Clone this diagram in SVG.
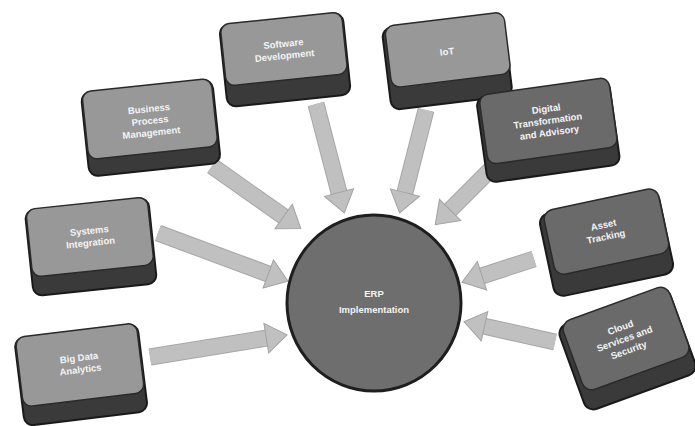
<svg xmlns="http://www.w3.org/2000/svg" width="695" height="426" viewBox="0 0 695 426">
<style>
.side{fill:#3a3a3a;stroke:#1a1a1a;stroke-width:2}
.top{fill:#989898;stroke:#2a2a2a;stroke-width:1.5}
.topd{fill:#6a6a6a;stroke:#2a2a2a;stroke-width:1.5}
.lbl{font-family:"Liberation Sans",Arial,sans-serif;font-size:9.5px;font-weight:bold;fill:#f4f4f4;text-anchor:middle}
.conn{stroke:#c0c0c0;stroke-width:15;fill:none;marker-end:url(#ah)}
.edge{stroke:#a6a6a6;stroke-width:17;fill:none}
</style>
<defs>
<marker id="ah" markerUnits="userSpaceOnUse" markerWidth="24" markerHeight="34" refX="0" refY="16" orient="auto" overflow="visible">
<path d="M0,1 L21,16 L0,31 z" fill="#c0c0c0" stroke="#a2a2a2" stroke-width="1"/>
</marker>
</defs>
<rect width="695" height="426" fill="#ffffff"/>
<g id="connectors">
<line class="edge" x1="212" y1="166" x2="283.6" y2="216.5"/>
<line class="edge" x1="316" y1="104" x2="339" y2="192.6"/>
<line class="edge" x1="426" y1="110" x2="404.9" y2="192.6"/>
<line class="edge" x1="492" y1="168" x2="450.1" y2="209.9"/>
<line class="edge" x1="158" y1="233" x2="268.3" y2="274"/>
<line class="edge" x1="150" y1="357" x2="266.3" y2="338.2"/>
<line class="edge" x1="534" y1="259" x2="482" y2="275.8"/>
<line class="edge" x1="555" y1="342" x2="484.5" y2="326.3"/>
<line class="conn" x1="212" y1="166" x2="283.6" y2="216.5"/>
<line class="conn" x1="316" y1="104" x2="339" y2="192.6"/>
<line class="conn" x1="426" y1="110" x2="404.9" y2="192.6"/>
<line class="conn" x1="492" y1="168" x2="450.1" y2="209.9"/>
<line class="conn" x1="158" y1="233" x2="268.3" y2="274"/>
<line class="conn" x1="150" y1="357" x2="266.3" y2="338.2"/>
<line class="conn" x1="534" y1="259" x2="482" y2="275.8"/>
<line class="conn" x1="555" y1="342" x2="484.5" y2="326.3"/>
</g>
<g id="bpm" transform="translate(150,120) rotate(-6)">
<rect class="side" x="-66" y="-34" width="132" height="84" rx="9"/>
<rect class="top" x="-65" y="-35" width="130" height="68" rx="9"/>
<text class="lbl" y="-8">Business</text>
<text class="lbl" y="4">Process</text>
<text class="lbl" y="16">Management</text>
</g>
<g id="softdev" transform="translate(284,50) rotate(-6)">
<rect class="side" x="-62" y="-31" width="124" height="82" rx="9"/>
<rect class="top" x="-61" y="-32" width="122" height="62" rx="9"/>
<text class="lbl" y="-3">Software</text>
<text class="lbl" y="9">Development</text>
</g>
<g id="iot" transform="translate(447,52) rotate(-7)">
<rect class="side" x="-62" y="-31" width="122" height="82" rx="9"/>
<rect class="top" x="-59" y="-33" width="120" height="62" rx="9"/>
<text class="lbl" y="3">IoT</text>
</g>
<g id="digital" transform="translate(548,122) rotate(-8)">
<rect class="side" x="-68" y="-34" width="134" height="86" rx="9"/>
<rect class="topd" x="-65" y="-36" width="131" height="70" rx="9"/>
<text class="lbl" y="-10">Digital</text>
<text class="lbl" y="2">Transformation</text>
<text class="lbl" y="14">and Advisory</text>
</g>
<g id="systems" transform="translate(90,238) rotate(-6)">
<rect class="side" x="-62" y="-34" width="124" height="86" rx="9"/>
<rect class="top" x="-61" y="-35" width="122" height="68" rx="9"/>
<text class="lbl" y="-4">Systems</text>
<text class="lbl" y="8">Integration</text>
</g>
<g id="asset" transform="translate(605,232) rotate(-12)">
<rect class="side" x="-62" y="-30" width="122" height="84" rx="10"/>
<rect class="topd" x="-57" y="-33" width="117" height="66" rx="10"/>
<text class="lbl" y="-4">Asset</text>
<text class="lbl" y="8">Tracking</text>
</g>
<g id="bigdata" transform="translate(80,366) rotate(-7)">
<rect class="side" x="-62" y="-35" width="124" height="88" rx="9"/>
<rect class="top" x="-61" y="-36" width="122" height="70" rx="9"/>
<text class="lbl" y="-5">Big Data</text>
<text class="lbl" y="7">Analytics</text>
</g>
<g id="cloud" transform="translate(625,340) rotate(-20)">
<rect class="side" x="-60" y="-35" width="118" height="90" rx="10"/>
<rect class="topd" x="-55" y="-38" width="113" height="74" rx="10"/>
<text class="lbl" y="-10">Cloud</text>
<text class="lbl" y="2">Services and</text>
<text class="lbl" y="14">Security</text>
</g>
<g id="center">
<ellipse cx="374" cy="303" rx="87" ry="88" fill="#6e6e6e" stroke="#1e1e1e" stroke-width="3"/>
<text class="lbl" x="374" y="297">ERP</text>
<text class="lbl" x="374" y="313">Implementation</text>
</g>
</svg>
